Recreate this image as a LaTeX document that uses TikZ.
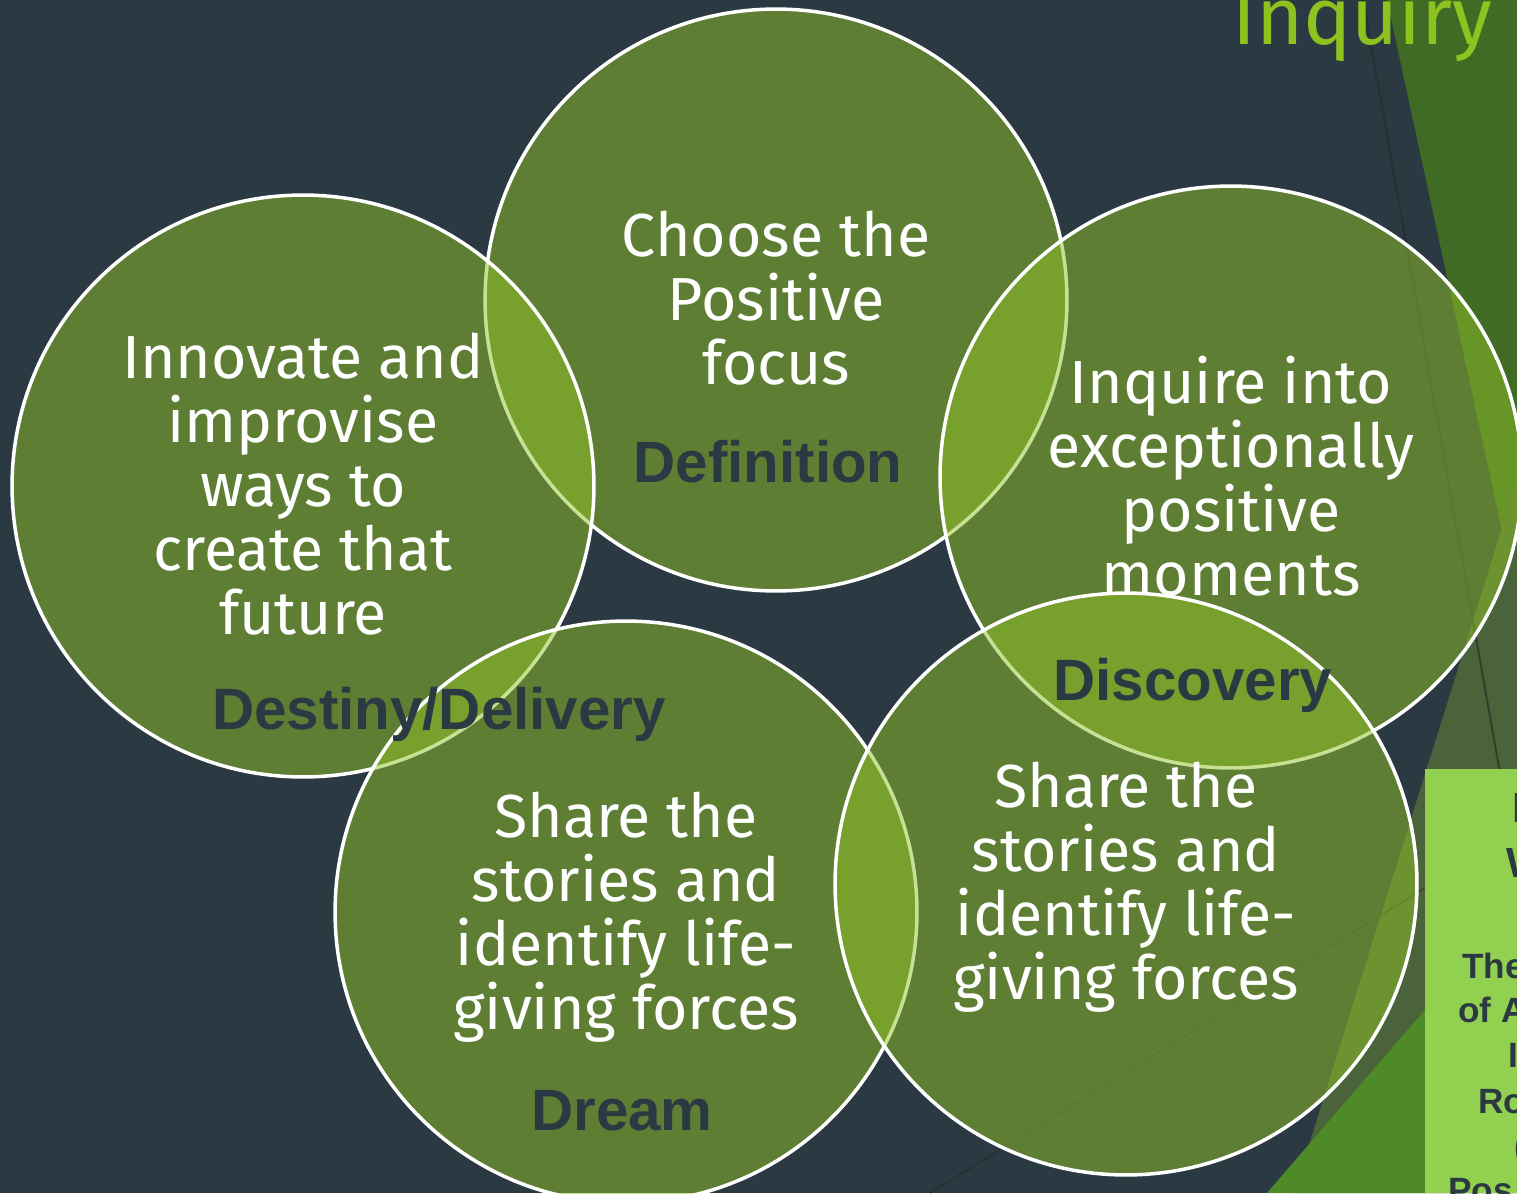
\documentclass[tikz,border=0pt]{standalone}
\usepackage{fontspec}
\setmainfont{Fira Sans}
\newfontfamily\labelfont{Liberation Sans}
\definecolor{slatebg}{RGB}{43,58,66}
\definecolor{petalgreen}{RGB}{145,194,40}
\definecolor{titlegreen}{RGB}{141,194,31}
\definecolor{facetdark}{RGB}{63,107,37}
\definecolor{facetgrey}{RGB}{74,99,58}
\definecolor{facetbright}{RGB}{78,138,40}
\definecolor{notegreen}{RGB}{146,208,80}

\tikzset{
  petal/.style={circle, draw=white, line width=2pt, fill=petalgreen, fill opacity=0.5, minimum size=11.64cm, inner sep=0pt},
  blurb/.style={text=white, align=center, font=\fontsize{34.6}{36.4}\selectfont, inner sep=0pt},
  stage/.style={text=slatebg, font=\labelfont\bfseries\fontsize{33.2}{36}\selectfont, inner sep=0pt},
  notetext/.style={text=slatebg, font=\labelfont\bfseries\fontsize{20}{24}\selectfont, inner sep=0pt, anchor=base west},
}

\begin{document}
\begin{tikzpicture}[x=0.02cm, y=-0.02cm]
  % Slide background
  \useasboundingbox (0,0) rectangle (1517,1193);
  \clip (0,0) rectangle (1517,1193);
  \fill[slatebg] (0,0) rectangle (1517,1193);

  % Facets down the right edge
  \fill[facetdark] (1387,0) -- (1517,0) -- (1517,600) -- cycle;
  \fill[facetgrey] (1517,480) -- (1517,1193) -- (1294,1193) -- cycle;
  \fill[facetbright] (1267,1193) -- (1517,903) -- (1517,1193) -- cycle;
  \draw[black!85, opacity=0.6, line width=1.1pt] (1363,0) -- (1503,790);
  \draw[black!85, opacity=0.5, line width=0.9pt] (930,1193) -- (1425,888);

  % Title
  \node[anchor=base west, text=titlegreen, font=\fontsize{46}{46}\selectfont, inner sep=0pt] (title) at (1232,45) {Inquiry};

  % Circles
  \node[petal] (define) at (776,300) {};
  \node[petal] (discover) at (1231,477) {};
  \node[petal] (destiny) at (303,486) {};
  \node[petal] (dream) at (626,912) {};
  \node[petal] (share) at (1126,884) {};

  % Text in the circles
  \node[blurb] (definetext) at (776,298) {Choose the\\Positive\\focus};
  \node[blurb] (discovertext) at (1231,476) {Inquire into\\exceptionally\\positive\\moments};
  \node[blurb] (destinytext) at (303,484) {Innovate and\\improvise\\ways to\\create that\\future};
  \node[blurb] (dreamtext) at (626,917) {Share the\\stories and\\identify life-\\giving forces};
  \node[blurb] (sharetext) at (1126,887) {Share the\\stories and\\identify life-\\giving forces};

  % Stage names
  \node[stage] (definelabel) at (768,462) {Definition};
  \node[stage] (discoverlabel) at (1193,685) {Discovery};
  \node[stage] (destinylabel) at (439,714) {Destiny/Delivery};
  \node[stage] (dreamlabel) at (622,1111) {Dream};

  % Side note box
  \fill[notegreen] (1425,769) rectangle (1517,1193);
  \node[notetext, font=\labelfont\bfseries\fontsize{24}{28}\selectfont] (note1) at (1512,822) {I};
  \node[notetext, font=\labelfont\bfseries\fontsize{24}{28}\selectfont] (note2) at (1506,877) {W};
  \node[notetext] (note3) at (1462,978) {The};
  \node[notetext] (note4) at (1458,1022) {of A};
  \node[notetext] (note5) at (1508,1067) {I};
  \node[notetext] (note6) at (1478,1113) {Ro};
  \node[notetext] (note7) at (1514,1158) {(};
  \node[notetext] (note8) at (1448,1202) {Pos};
\end{tikzpicture}
\end{document}
